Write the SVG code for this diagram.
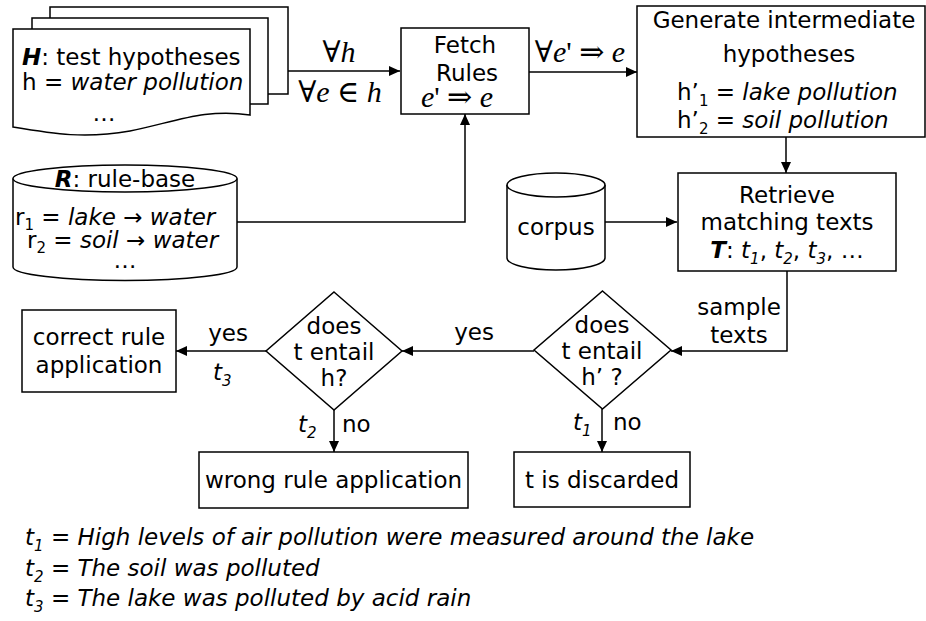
<svg xmlns="http://www.w3.org/2000/svg" width="926" height="621" viewBox="0 0 926 621">
<style>
.s{fill:#fff;stroke:#000;stroke-width:1.5}
.t{font-family:"DejaVu Sans","Verdana",sans-serif;font-size:23px;fill:#000}
.m{text-anchor:middle}
.i{font-style:italic}
.b{font-weight:bold;font-style:italic}
.sub{font-size:15px}
.math{font-family:"Liberation Serif","DejaVu Serif",serif;font-size:30px;fill:#000;text-anchor:middle}
.c{fill:none;stroke:#000;stroke-width:1.5}
</style>
<defs>
<marker id="arr" markerUnits="userSpaceOnUse" markerWidth="11" markerHeight="10" refX="11" refY="5" orient="auto">
<path d="M0,0 L11,5 L0,10 z" fill="#000"/>
</marker>
</defs>

<g id="connectors">
<path class="c" d="M288,71 H400" marker-end="url(#arr)"/>
<path class="c" d="M529,72 H637" marker-end="url(#arr)"/>
<path class="c" d="M786,137 V173" marker-end="url(#arr)"/>
<path class="c" d="M237,222 H465 V114" marker-end="url(#arr)"/>
<path class="c" d="M605,222 H677" marker-end="url(#arr)"/>
<path class="c" d="M787,271 V351 H671" marker-end="url(#arr)"/>
<path class="c" d="M534,351 H402" marker-end="url(#arr)"/>
<path class="c" d="M266,351 H176" marker-end="url(#arr)"/>
<path class="c" d="M334,410 V452" marker-end="url(#arr)"/>
<path class="c" d="M602,409 V452" marker-end="url(#arr)"/>
<text class="math" x="339" y="62">∀<tspan font-style="italic">h</tspan></text>
<text class="math" x="340" y="102">∀<tspan font-style="italic">e</tspan> ∈ <tspan font-style="italic">h</tspan></text>
<text class="math" x="580" y="62">∀<tspan font-style="italic">e</tspan>' ⇒ <tspan font-style="italic">e</tspan></text>
<text class="t m" x="739" y="315">sample</text>
<text class="t m" x="739" y="343">texts</text>
<text class="t m" x="474" y="340">yes</text>
<text class="t m" x="228" y="341">yes</text>
<text class="t i" x="213" y="380">t<tspan class="sub" dy="6">3</tspan></text>
<text class="t i" x="298" y="432">t<tspan class="sub" dy="6">2</tspan></text>
<text class="t" x="342" y="432">no</text>
<text class="t i" x="573" y="430">t<tspan class="sub" dy="6">1</tspan></text>
<text class="t" x="613" y="430">no</text>
</g>

<g id="hypotheses">
<rect class="s" x="50" y="7" width="238" height="87"/>
<rect class="s" x="32" y="18" width="236" height="86"/>
<path class="s" d="M13,29 H250 V115 C205,108 175,122 130,131 C85,139 55,134 13,127 Z"/>
<text class="t" x="22" y="65"><tspan class="b">H</tspan>: test hypotheses</text>
<text class="t" x="22" y="90">h = <tspan class="i">water pollution</tspan></text>
<text class="t m" x="104" y="121">…</text>
</g>

<g id="fetch">
<rect class="s" x="401" y="28" width="128" height="86"/>
<text class="t m" x="465" y="53">Fetch</text>
<text class="t m" x="467" y="81">Rules</text>
<text class="math" x="457" y="107"><tspan font-style="italic">e</tspan>' ⇒ <tspan font-style="italic">e</tspan></text>
</g>

<g id="generate">
<rect class="s" x="637" y="6" width="288" height="131"/>
<text class="t m" x="784" y="28">Generate intermediate</text>
<text class="t m" x="789" y="62">hypotheses</text>
<text class="t" x="677" y="100">h’<tspan class="sub" dy="6">1</tspan><tspan dy="-6"> = </tspan><tspan class="i">lake pollution</tspan></text>
<text class="t" x="677" y="128">h’<tspan class="sub" dy="6">2</tspan><tspan dy="-6"> = </tspan><tspan class="i">soil pollution</tspan></text>
</g>

<g id="rulebase">
<path class="s" d="M13,178.5 V267 A112,13.5 0 0 0 237,267 V178.5"/>
<ellipse class="s" cx="125" cy="178.5" rx="112" ry="13.5"/>
<text class="t m" x="125" y="187"><tspan class="b">R</tspan>: rule-base</text>
<text class="t" x="15" y="225">r<tspan class="sub" dy="5">1</tspan><tspan dy="-5"> = </tspan><tspan class="i">lake</tspan> → <tspan class="i">water</tspan></text>
<text class="t" x="27" y="248">r<tspan class="sub" dy="5">2</tspan><tspan dy="-5"> = </tspan><tspan class="i">soil</tspan> → <tspan class="i">water</tspan></text>
<text class="t m" x="125" y="268">…</text>
</g>

<g id="corpus">
<path class="s" d="M507,185 V258 A49,12 0 0 0 605,258 V185"/>
<ellipse class="s" cx="556" cy="185" rx="49" ry="12"/>
<text class="t m" x="556" y="235">corpus</text>
</g>

<g id="retrieve">
<rect class="s" x="678" y="173" width="218" height="98"/>
<text class="t m" x="787" y="203">Retrieve</text>
<text class="t m" x="787" y="230">matching texts</text>
<text class="t m" x="787" y="258"><tspan class="b">T</tspan>: <tspan class="i">t</tspan><tspan class="sub i" dy="6">1</tspan><tspan dy="-6">, </tspan><tspan class="i">t</tspan><tspan class="sub i" dy="6">2</tspan><tspan dy="-6">, </tspan><tspan class="i">t</tspan><tspan class="sub i" dy="6">3</tspan><tspan dy="-6">, …</tspan></text>
</g>

<g id="entail-hprime">
<path class="s" d="M602.5,291 L671,350 L602.5,409 L534,350 Z"/>
<text class="t m" x="602" y="333">does</text>
<text class="t m" x="602" y="359">t entail</text>
<text class="t m" x="602" y="385">h’ ?</text>
</g>

<g id="entail-h">
<path class="s" d="M334,292 L402,351 L334,410 L266,351 Z"/>
<text class="t m" x="334" y="334">does</text>
<text class="t m" x="334" y="360">t entail</text>
<text class="t m" x="334" y="386">h?</text>
</g>

<g id="correct">
<rect class="s" x="22" y="310" width="154" height="82"/>
<text class="t m" x="99" y="345">correct rule</text>
<text class="t m" x="99" y="373">application</text>
</g>

<g id="wrong">
<rect class="s" x="199" y="452" width="269" height="56"/>
<text class="t m" x="333.5" y="488">wrong rule application</text>
</g>

<g id="discarded">
<rect class="s" x="514" y="452" width="176" height="55"/>
<text class="t m" x="602" y="488">t is discarded</text>
</g>

<g id="legend">
<text class="t i" x="25" y="545">t<tspan class="sub" dy="6">1</tspan><tspan dy="-6"> = High levels of air pollution were measured around the lake</tspan></text>
<text class="t i" x="25" y="576">t<tspan class="sub" dy="6">2</tspan><tspan dy="-6"> = The soil was polluted</tspan></text>
<text class="t i" x="25" y="606">t<tspan class="sub" dy="6">3</tspan><tspan dy="-6"> = The lake was polluted by acid rain</tspan></text>
</g>
</svg>
